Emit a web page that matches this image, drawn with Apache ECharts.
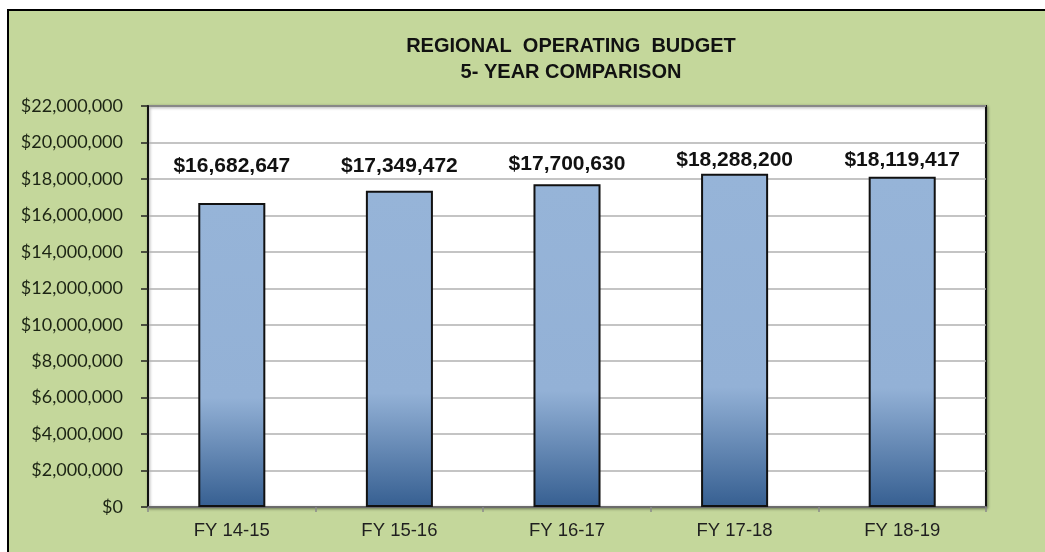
<!DOCTYPE html>
<html>
<head>
<meta charset="utf-8">
<script src="https://cdn.jsdelivr.net/npm/echarts@6/dist/echarts.min.js"></script>
<style>
  html, body { margin: 0; padding: 0; background: #ffffff; }
  #chart { width: 1045px; height: 552px; }
</style>
</head>
<body>
<div id="chart"></div>
<script>
// Fiscal years and their operating budget totals
const categories = ['FY 14-15', 'FY 15-16', 'FY 16-17', 'FY 17-18', 'FY 18-19'];
const budget = [16682647, 17349472, 17700630, 18288200, 18119417];
const titleLines = ['REGIONAL  OPERATING  BUDGET', '5- YEAR COMPARISON'];

// Gap between each bar top and its value label
const labelGaps = [26, 14, 10, 3, 6];

const money = v => '$' + Math.round(v).toString().replace(/\B(?=(\d{3})+(?!\d))/g, ',');

const barFill = new echarts.graphic.LinearGradient(0, 0, 0, 1, [
  { offset: 0, color: '#96b4d8' },
  { offset: 0.64, color: '#93b1d6' },
  { offset: 1, color: '#365f91' }
]);

const chart = echarts.init(document.getElementById('chart'), null, { renderer: 'canvas' });

chart.setOption({
  animation: false,
  backgroundColor: '#ffffff',
  graphic: [{
    type: 'rect',
    z: -10,
    silent: true,
    shape: { x: 8, y: 10, width: 1100, height: 600 },
    style: { fill: '#c4d79b', stroke: '#000000', lineWidth: 2 }
  }],
  title: {
    text: titleLines.join('\n'),
    left: 571,
    top: 33,
    padding: 0,
    textAlign: 'center',
    textStyle: {
      fontFamily: 'Liberation Sans, Arial, sans-serif',
      fontWeight: 'bold',
      fontSize: 20,
      lineHeight: 26,
      color: '#111111'
    }
  },
  grid: {
    left: 148, top: 106, right: 59, bottom: 45,
    show: true,
    backgroundColor: '#ffffff',
    borderColor: '#111111',
    borderWidth: 2,
    shadowColor: 'rgba(0,0,0,0.35)',
    shadowBlur: 3,
    shadowOffsetX: 1,
    shadowOffsetY: 1
  },
  xAxis: {
    type: 'category',
    data: categories,
    axisLine: { lineStyle: { color: '#6b6b6b', width: 2 } },
    axisTick: { show: true, length: 5, lineStyle: { color: '#8a8a8a', width: 1.5 } },
    axisLabel: {
      margin: 14,
      fontFamily: 'Liberation Sans, Arial, sans-serif',
      fontSize: 18.5,
      color: '#1f1f1f'
    },
    splitLine: { show: false }
  },
  yAxis: {
    type: 'value',
    min: 0,
    max: 22000000,
    interval: 2000000,
    axisLine: { show: true, lineStyle: { color: '#111111', width: 2 } },
    axisTick: { show: true, length: 7, lineStyle: { color: '#222222', width: 1.5 } },
    axisLabel: {
      margin: 25,
      formatter: money,
      fontFamily: 'Lato, sans-serif',
      fontSize: 18,
      color: '#1c2414'
    },
    splitLine: { lineStyle: { color: '#b0b0b0', width: 1.5 } }
  },
  series: [{
    type: 'bar',
    barWidth: '40%',
    data: budget.map((v, i) => ({
      value: v,
      label: { distance: labelGaps[i] }
    })),
    itemStyle: {
      color: barFill,
      borderColor: '#111111',
      borderWidth: 2
    },
    label: {
      show: true,
      position: 'top',
      formatter: p => money(p.value),
      fontFamily: 'Liberation Sans, Arial, sans-serif',
      fontWeight: 'bold',
      fontSize: 21,
      color: '#111111'
    }
  }]
});
</script>
</body>
</html>
